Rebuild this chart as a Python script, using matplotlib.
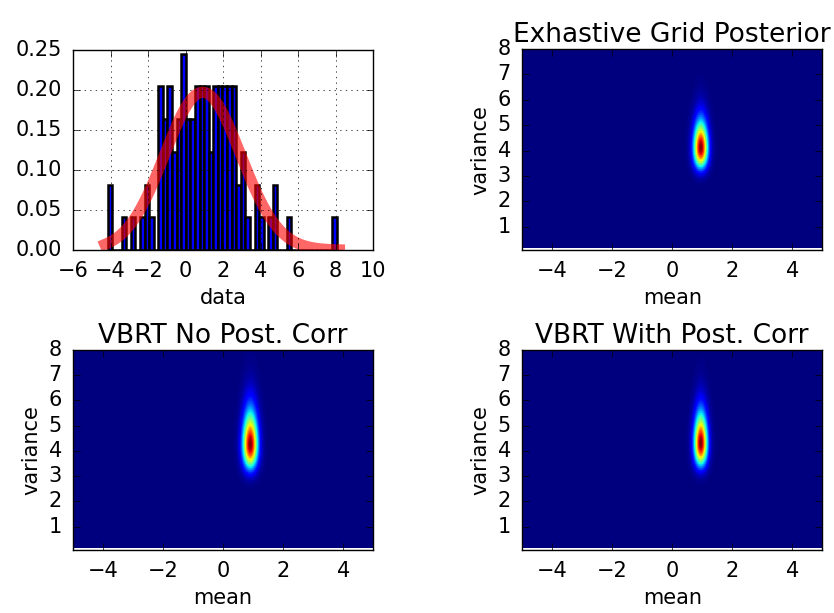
import numpy as np
import matplotlib
matplotlib.use('Agg')
import matplotlib.pyplot as plt

plt.style.use('classic')
plt.rcParams['font.family'] = ['DejaVu Sans']
plt.rcParams['xtick.labelsize'] = 15
plt.rcParams['ytick.labelsize'] = 15
plt.rcParams['axes.labelsize'] = 15
plt.rcParams['axes.titlesize'] = 19
plt.rcParams['xtick.major.pad'] = 8
plt.rcParams['ytick.major.pad'] = 8
plt.rcParams['xtick.major.size'] = 5
plt.rcParams['ytick.major.size'] = 5

# ---------------- histogram data ----------------
counts = [2, 0, 0, 1, 0, 1, 0, 1, 2, 1,
          0, 5, 4, 5, 3, 4, 6, 4, 4, 5,
          5, 5, 3, 5, 5, 5, 5, 5, 2, 3,
          1, 0, 2, 1, 0, 1, 2, 0, 0, 1,
          0, 0, 0, 0, 0, 0, 0, 0, 0, 1]
bin_lo, bin_hi = -4.14, 8.07
fit_mean, fit_std = 0.91, 2.02
curve_lo, curve_hi = -4.3, 8.2

# ---------------- posterior panels ----------------
titles = ['Exhastive Grid Posterior', 'VBRT No Post. Corr', 'VBRT With Post. Corr']
post_mu = [0.93, 0.88, 0.93]
post_sd_mu = [0.16, 0.17, 0.15]
post_var_mode = [4.1, 4.25, 4.3]
post_shape = [45, 32, 38]
mean_range = (-5, 5)
var_range = (0.15, 8)

edges = np.linspace(bin_lo, bin_hi, len(counts) + 1)
centers = 0.5 * (edges[:-1] + edges[1:])

fig = plt.figure(figsize=(8.34, 6.13), dpi=100)
fig.patch.set_facecolor('white')

ax1 = fig.add_axes([0.0875, 0.592, 0.360, 0.326])
ax1.hist(centers, bins=edges, weights=counts, density=True,
         facecolor='b', edgecolor='k', linewidth=1.8)
xc = np.linspace(curve_lo, curve_hi, 300)
pdf = np.exp(-0.5 * ((xc - fit_mean) / fit_std) ** 2) / (np.sqrt(2 * np.pi) * fit_std)
ax1.plot(xc, pdf, 'r-', lw=8, alpha=0.6)
ax1.set_xlim(-6, 10)
ax1.set_ylim(0, 0.25)
ax1.set_xticks(np.arange(-6, 11, 2))
ax1.set_yticks(np.arange(0, 0.26, 0.05))
ax1.grid(True)
ax1.set_xlabel('data')

positions = [[0.626, 0.592, 0.360, 0.328],
             [0.0875, 0.103, 0.360, 0.326],
             [0.626, 0.103, 0.360, 0.326]]

mg = np.linspace(mean_range[0], mean_range[1], 300)
vg = np.linspace(var_range[0], var_range[1], 300)
M, V = np.meshgrid(mg, vg)

for i in range(3):
    ax = fig.add_axes(positions[i])
    a = post_shape[i]
    b = post_var_mode[i] * (a + 1)
    logp = -(a + 1) * np.log(V) - b / V - 0.5 * ((M - post_mu[i]) / post_sd_mu[i]) ** 2
    P = np.exp(logp - logp.max())
    ax.imshow(P, origin='lower', aspect='auto', cmap='jet', interpolation='nearest',
              extent=[mean_range[0], mean_range[1], var_range[0], var_range[1]],
              vmin=0, vmax=1)
    ax.set_xlim(-5, 5)
    ax.set_ylim(0.08, 8)
    ax.set_xticks([-4, -2, 0, 2, 4])
    ax.set_yticks(range(1, 9))
    ax.set_xlabel('mean')
    ax.set_ylabel('variance')
    ax.set_title(titles[i])

fig.savefig('out.png', dpi=100, facecolor='white')
